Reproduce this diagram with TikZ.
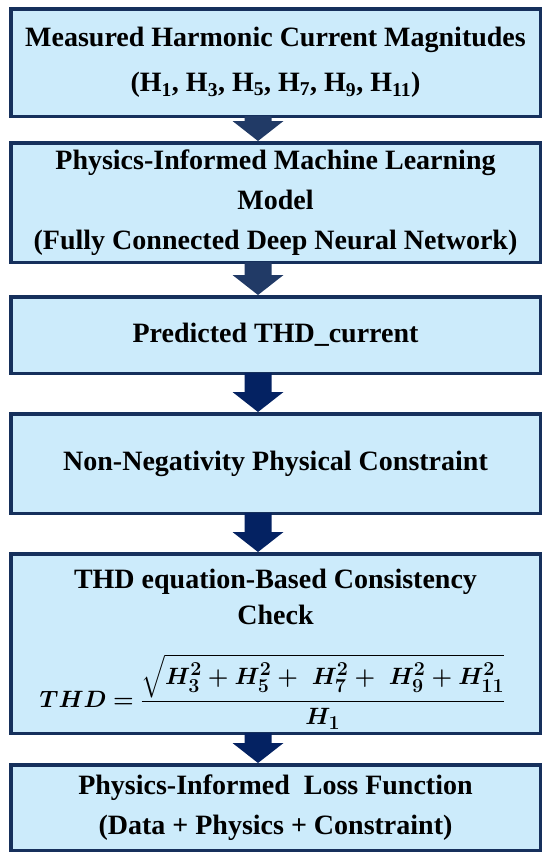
\documentclass[tikz,border=0pt]{standalone}
\usepackage{fontspec}
\setmainfont{Liberation Serif}
\usepackage{amsmath,bm,graphicx}
\usetikzlibrary{calc}
\definecolor{boxfill}{RGB}{204,235,251}
\definecolor{boxline}{RGB}{22,48,92}
\definecolor{arrA}{RGB}{33,58,102}
\definecolor{arrB}{RGB}{4,34,98}
\newcommand\blockarr[3]{%
  \fill[#3] let \p1=(#1.south), \p2=(#2.north) in
    (\x1-31pt,\y1+2pt) -- (\x1-4pt,\y1+2pt) -- (\x1-4pt,\y2+20pt) -- (\x1+8pt,\y2+20pt)
    -- (\x1-17.5pt,\y2) -- (\x1-43pt,\y2+20pt) -- (\x1-31pt,\y2+20pt) -- cycle;}
\begin{document}
\begin{tikzpicture}[x=1pt,y=-1pt,
  flowbox/.style={draw=boxline, fill=boxfill, line width=3.5pt, minimum width=529.5pt,
    inner sep=0pt, align=center, font=\bfseries\fontsize{28}{40}\selectfont},
  txt/.style={inner sep=0pt, align=center, font=\bfseries\fontsize{28}{40}\selectfont}]
\useasboundingbox (0,0) rectangle (550,862);
\node[flowbox, minimum height=107.5pt] (b1) at (275.5,62.5)
  {Measured Harmonic Current Magnitudes\\[5pt]
   (H\textsubscript{1}, H\textsubscript{3}, H\textsubscript{5}, H\textsubscript{7}, H\textsubscript{9}, H\textsubscript{11})};
\node[flowbox, minimum height=119.5pt] (b2) at (275.5,202.5)
  {Physics-Informed Machine Learning\\Model\\(Fully Connected Deep Neural Network)};
\node[flowbox, minimum height=76.5pt] (b3) at (275.5,335) {Predicted THD\_current};
\node[flowbox, minimum height=99.5pt] (b4) at (275.5,463.5) {Non-Negativity Physical Constraint};
\node[flowbox, minimum height=179.5pt] (b5) at (275.5,643.5) {};
\node[txt] (b5t) at (275.5,597) {THD equation-Based Consistency\\[-4pt]Check};
\node[inner sep=0pt, anchor=base, font=\Huge] (b5f) at (272.5,707)
  {\scalebox{0.95}{$\bm{THD = \dfrac{\sqrt{H_3^2 + H_5^2 +\; H_7^2 +\; H_9^2 + H_{11}^2}}{H_1}}$}};
\node[flowbox, minimum height=85.5pt] (b6) at (275.5,807.5)
  {Physics-Informed\ \ Loss Function\\(Data + Physics + Constraint)};
\blockarr{b1}{b2}{arrA}
\blockarr{b2}{b3}{arrA}
\blockarr{b3}{b4}{arrB}
\blockarr{b4}{b5}{arrB}
\blockarr{b5}{b6}{arrB}
\end{tikzpicture}
\end{document}
